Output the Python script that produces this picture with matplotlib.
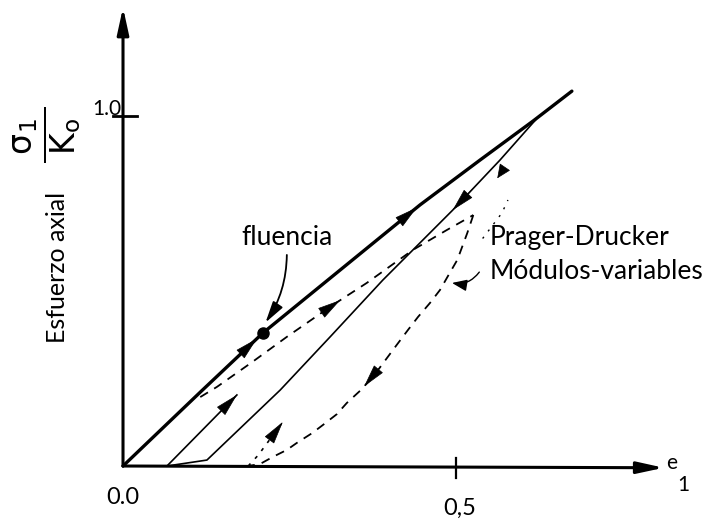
import numpy as np
import matplotlib
matplotlib.use("Agg")
import matplotlib.pyplot as plt

plt.rcParams["font.family"] = ["Lato", "DejaVu Sans"]
plt.rcParams["mathtext.fontset"] = "dejavusans"
plt.rcParams["mathtext.default"] = "regular"

# ---- datos (e1, sigma1/Ko) ----
carga_x = [0.0, 0.116, 0.210, 0.446, 0.536, 0.616, 0.674]
carga_y = [0.0, 0.211, 0.380, 0.746, 0.874, 0.986, 1.071]

descarga_x = [0.620, 0.566, 0.495, 0.390, 0.311, 0.236, 0.126, 0.066]
descarga_y = [0.990, 0.874, 0.731, 0.531, 0.369, 0.217, 0.017, 0.0]

recarga_x = [0.066, 0.171]
recarga_y = [0.0, 0.203]

mv_carga_x = [0.116, 0.141, 0.194, 0.246, 0.315, 0.366, 0.435, 0.486, 0.526]
mv_carga_y = [0.197, 0.226, 0.297, 0.369, 0.460, 0.523, 0.617, 0.674, 0.717]

mv_descarga_x = [0.526, 0.517, 0.502, 0.488, 0.476, 0.461, 0.443, 0.428, 0.411,
                 0.393, 0.375, 0.356, 0.336, 0.321, 0.300, 0.284, 0.261, 0.246,
                 0.225, 0.206, 0.188]
mv_descarga_y = [0.717, 0.666, 0.589, 0.543, 0.503, 0.466, 0.426, 0.389, 0.346,
                 0.300, 0.254, 0.215, 0.180, 0.148, 0.117, 0.094, 0.066, 0.046,
                 0.026, 0.006, 0.0]

mv_recarga_x = [0.188, 0.203, 0.240]
mv_recarga_y = [0.0, 0.031, 0.126]

pd_x = [0.540, 0.569, 0.578]
pd_y = [0.650, 0.723, 0.760]

fluencia = (0.210, 0.380)

xtick_vals = [0.0, 0.5]
xtick_labels = ["0.0", "0,5"]
ytick_vals = [1.0]
ytick_labels = ["1.0"]

# posiciones (x de la punta) de las flechas sobre cada curva
flechas_carga = [0.201, 0.441]
flechas_descarga = [0.495]
flechas_recarga = [0.171]
flechas_mv_carga = [0.326]
flechas_mv_descarga = [0.362]
flechas_mv_recarga = [0.240]


def flecha(ax, xs, ys, x_tip, back):
    order = np.argsort(xs)
    xs_s = np.asarray(xs)[order]
    ys_s = np.asarray(ys)[order]
    y_tip = np.interp(x_tip, xs_s, ys_s)
    x_tail = x_tip - back
    y_tail = np.interp(x_tail, xs_s, ys_s)
    ax.annotate("", xy=(x_tip, y_tip), xytext=(x_tail, y_tail),
                arrowprops=dict(arrowstyle="-|>,head_length=1.5,head_width=0.38",
                                color="k", lw=0.5, shrinkA=0, shrinkB=0))


fig = plt.figure(figsize=(7.13, 5.28), dpi=100)
ax = fig.add_axes([0, 0, 1, 1])
ax.set_xlim(-0.1847, 0.8859)
ax.set_ylim(-0.1771, 1.3314)
ax.axis("off")

# ejes con flecha
ax.annotate("", xy=(0, 1.31), xytext=(0, 0),
            arrowprops=dict(arrowstyle="-|>,head_length=1.6,head_width=0.35",
                            color="k", lw=2.2, shrinkA=0, shrinkB=0))
ax.annotate("", xy=(0.812, -0.005), xytext=(0, 0),
            arrowprops=dict(arrowstyle="-|>,head_length=1.6,head_width=0.35",
                            color="k", lw=2.2, shrinkA=0, shrinkB=0))

for v, t in zip(xtick_vals, xtick_labels):
    if v > 0:
        ax.plot([v, v], [0.023, -0.034], color="k", lw=1.6)
        ax.text(v + 0.006, -0.12, t, ha="center", va="center", fontsize=17)
    else:
        ax.text(v, -0.09, t, ha="center", va="center", fontsize=17)
for v, t in zip(ytick_vals, ytick_labels):
    ax.plot([-0.015, 0.021], [v, v], color="k", lw=2.0)
    ax.text(-0.003, v + 0.002, t, ha="right", va="baseline", fontsize=15)

ax.text(0.824, 0.01, "e", ha="center", va="center", fontsize=15)
ax.text(0.842, -0.055, "1", ha="center", va="center", fontsize=15)

ax.text(-0.099, 0.566, "Esfuerzo axial", rotation=90,
        ha="center", va="center", fontsize=18)
ax.text(-0.113, 0.946,
        r"$\frac{\;\mathrm{\sigma}_{\mathrm{1}}\;}{\;\mathrm{K}_{\mathrm{o}}\;}$",
        rotation=90, ha="center", va="center", fontsize=34)

# curvas
ax.plot(carga_x, carga_y, color="k", lw=2.4, solid_capstyle="round")
ax.plot(descarga_x, descarga_y, color="k", lw=1.2)
ax.plot(recarga_x, recarga_y, color="k", lw=1.2)
ax.plot(mv_carga_x, mv_carga_y, color="k", lw=1.3, linestyle=(0, (5, 4)))
ax.plot(mv_descarga_x, mv_descarga_y, color="k", lw=1.3, linestyle=(0, (5, 4)))
ax.plot(mv_recarga_x, mv_recarga_y, color="k", lw=1.2, linestyle=(0, (2, 4)))
ax.plot(pd_x, pd_y, color="k", lw=1.0, linestyle=(0, (1.5, 5)))

for xt in flechas_carga:
    flecha(ax, carga_x, carga_y, xt, 0.03)
for xt in flechas_descarga:
    flecha(ax, descarga_x, descarga_y, xt, -0.03)
for xt in flechas_recarga:
    flecha(ax, recarga_x, recarga_y, xt, 0.025)
for xt in flechas_mv_carga:
    flecha(ax, mv_carga_x, mv_carga_y, xt, 0.03)
for xt in flechas_mv_descarga:
    flecha(ax, mv_descarga_x, mv_descarga_y, xt, -0.025)
for xt in flechas_mv_recarga:
    flecha(ax, mv_recarga_x, mv_recarga_y, xt, 0.02)
ax.annotate("", xy=(0.562, 0.822), xytext=(0.572, 0.85),
            arrowprops=dict(arrowstyle="-|>,head_length=0.9,head_width=0.4",
                            color="k", lw=0.5, shrinkA=0, shrinkB=0))

ax.plot(*fluencia, "o", color="k", ms=8)

# anotaciones
ax.text(0.246, 0.654, "fluencia", ha="center", va="center", fontsize=19)
ax.annotate("", xy=(fluencia[0] + 0.004, fluencia[1] + 0.03), xytext=(0.246, 0.603),
            arrowprops=dict(arrowstyle="-|>,head_length=1.3,head_width=0.35",
                            connectionstyle="arc3,rad=-0.15",
                            color="k", lw=1.3, shrinkA=0, shrinkB=0))
ax.text(0.551, 0.654, "Prager-Drucker", ha="left", va="center", fontsize=19)
ax.text(0.551, 0.557, "Módulos-variables", ha="left", va="center", fontsize=19)
ax.annotate("", xy=(0.494, 0.523), xytext=(0.535, 0.554),
            arrowprops=dict(arrowstyle="-|>,head_length=0.9,head_width=0.35",
                            connectionstyle="arc3,rad=-0.3",
                            color="k", lw=1.0, shrinkA=0, shrinkB=0))

fig.savefig("out.png", dpi=100)
